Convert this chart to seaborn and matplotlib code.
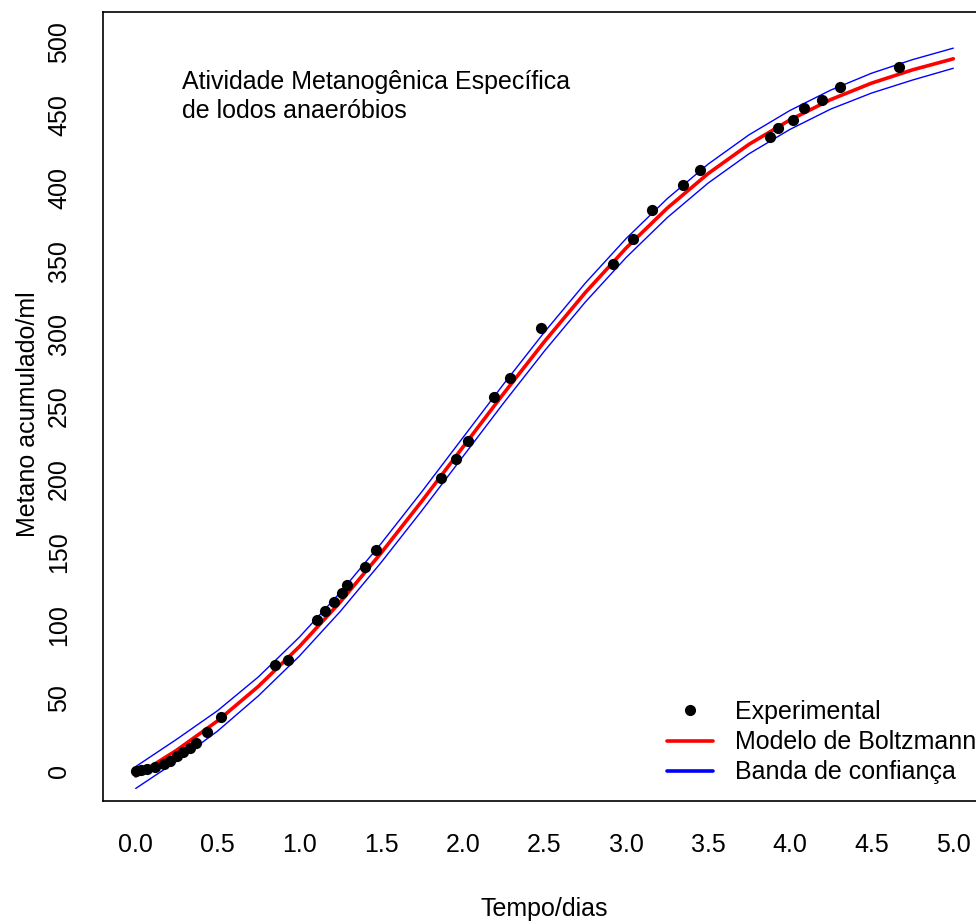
import numpy as np
import pandas as pd
import seaborn as sns
import matplotlib
matplotlib.use("Agg")
import matplotlib.pyplot as plt
from matplotlib.lines import Line2D

sns.set_style("white")
plt.rcParams["font.family"] = ["Liberation Sans", "DejaVu Sans"]
plt.rcParams["font.size"] = 18
plt.rcParams["text.color"] = "black"
plt.rcParams["axes.labelcolor"] = "black"
plt.rcParams["xtick.color"] = "black"
plt.rcParams["ytick.color"] = "black"

tempo = [0.00, 0.03, 0.07, 0.12, 0.17, 0.21, 0.25, 0.29, 0.33, 0.37, 0.435, 0.52,
         0.85, 0.93, 1.11, 1.16, 1.21, 1.26, 1.29, 1.40, 1.47, 1.87, 1.96, 2.03,
         2.19, 2.29, 2.48, 2.92, 3.04, 3.16, 3.35, 3.45, 3.88, 3.93, 4.02, 4.09,
         4.20, 4.31, 4.67]
metano = [0, 0.5, 1.5, 3, 5, 7, 10, 13, 16, 19, 26.7, 37,
          73, 76, 103.6, 110, 116, 122, 127.6, 140, 151.6, 201, 214, 226,
          256.5, 269.5, 304, 348, 365, 385, 402, 412, 435, 441, 446.5, 455,
          460, 469, 483]

# curva do modelo e banda
t_mod = [0.0, 0.25, 0.5, 0.75, 1.0, 1.25, 1.5, 1.75, 2.0, 2.25, 2.5,
         2.75, 3.0, 3.25, 3.5, 3.75, 4.0, 4.25, 4.5, 4.75, 5.0]
boltz = [-3.5, 14.2, 34.3, 58.0, 85.2, 115.8, 149.4, 185.1, 222.0, 258.9, 294.6,
         328.2, 358.8, 386.0, 409.7, 429.8, 446.5, 460.5, 471.8, 480.9, 488.5]
banda_sup = [3.0, 21.7, 41.3, 64.5, 91.7, 122.3, 155.9, 191.6, 228.5, 265.4, 301.1,
             334.7, 365.3, 392.5, 416.2, 436.3, 453.0, 467.0, 478.6, 487.9, 495.8]
banda_inf = [-12.0, 6.7, 27.3, 51.5, 78.7, 109.3, 142.9, 178.6, 215.5, 252.4, 288.1,
             321.7, 352.3, 379.5, 403.2, 423.3, 440.0, 454.0, 465.0, 473.9, 482.0]

df_exp = pd.DataFrame({"t": tempo, "y": metano})
df_mod = pd.DataFrame({"t": t_mod, "fit": boltz, "sup": banda_sup, "inf": banda_inf})

fig = plt.figure(figsize=(9.76, 9.24), dpi=100)
ax = fig.add_axes([103/976, 123/924, 883/976, 789/924])

sns.lineplot(data=df_mod, x="t", y="sup", color="#0000FF", lw=1.0, ax=ax)
sns.lineplot(data=df_mod, x="t", y="inf", color="#0000FF", lw=1.0, ax=ax)
sns.lineplot(data=df_mod, x="t", y="fit", color="#FF0000", lw=2.6, ax=ax)
sns.scatterplot(data=df_exp, x="t", y="y", color="black", s=65,
                linewidth=0, ax=ax, zorder=5)

ax.set_xlim(-0.2, 5.2)
ax.set_ylim(-20.6, 520.6)
ax.set_xticks(np.arange(0, 5.01, 0.5))
ax.set_xticklabels([f"{v:.1f}" for v in np.arange(0, 5.01, 0.5)])
ax.set_yticks(np.arange(0, 501, 50))
ax.set_yticklabels([str(v) for v in range(0, 501, 50)], rotation=90, va="center")
ax.tick_params(direction="out", length=11, width=1.2, pad=12, colors="black",
               labelsize=18)
for s in ax.spines.values():
    s.set_color("black")
    s.set_linewidth(1.2)

ax.set_xlabel("Tempo/dias", fontsize=18)
ax.set_ylabel("Metano acumulado/ml", fontsize=18)
ax.xaxis.set_label_coords(0.5, -0.122)
ax.yaxis.set_label_coords(-0.071, 0.49)

ax.text(0.282, 467.8, "Atividade Metanogênica Específica", fontsize=18,
        ha="left", va="baseline")
ax.text(0.282, 447.9, "de lodos anaeróbios", fontsize=18,
        ha="left", va="baseline")

handles = [
    Line2D([], [], color="black", marker="o", ls="none", markersize=7),
    Line2D([], [], color="#FF0000", lw=2.6),
    Line2D([], [], color="#0000FF", lw=2.6),
]
labels = ["Experimental", "Modelo de Boltzmann", "Banda de confiança"]
fig.legend(handles, labels, loc="upper left", bbox_transform=fig.transFigure,
           bbox_to_anchor=(667/976, 1 - 700/924), frameon=False, fontsize=18,
           handlelength=1.84, handletextpad=0.88, labelspacing=0.25,
           borderpad=0, borderaxespad=0)

fig.savefig("out.png", dpi=100)
